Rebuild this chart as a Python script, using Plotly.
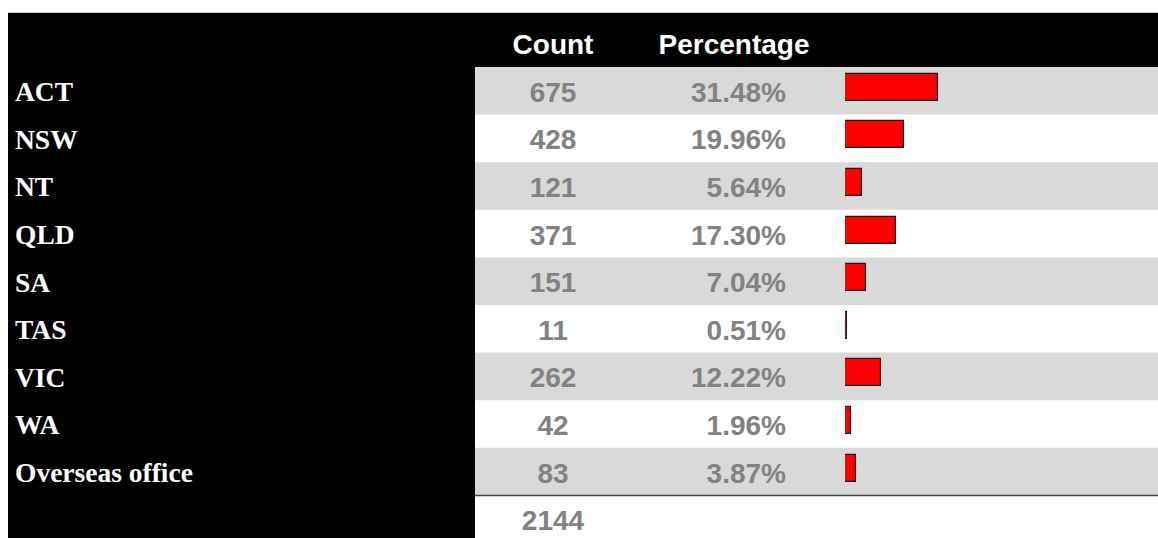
import plotly.graph_objects as go

# ---- data ----
regions = ["ACT", "NSW", "NT", "QLD", "SA", "TAS", "VIC", "WA", "Overseas office"]
counts = [675, 428, 121, 371, 151, 11, 262, 42, 83]
percentages = [31.48, 19.96, 5.64, 17.30, 7.04, 0.51, 12.22, 1.96, 3.87]
headers = ["Count", "Percentage"]
total = sum(counts)

# ---- layout constants (pixels) ----
W, H = 1158, 538
TOP = 13            # top of black header
HEAD_BOTTOM = 67    # bottom of header / first row top
ROW_H = 47.6
PANEL_LEFT = 8
PANEL_RIGHT = 475
BAR_LEFT = 845
PX_PER_PCT = 2.955
COUNT_X = 553
PCT_RIGHT = 786
PCT_HEAD_X = 734
LABEL_X = 15
TEXT_DY = 4.0 / ROW_H
LABEL_DY = 3.5 / ROW_H

def px_to_row(py):
    return (py - HEAD_BOTTOM) / ROW_H - 0.5

n = len(regions)
rows = list(range(n))
y_top = px_to_row(0)
y_bot = px_to_row(H)
header_y = px_to_row(46.5)

fig = go.Figure()

shapes = []
# left black panel
shapes.append(dict(type="rect", xref="x", yref="y", x0=PANEL_LEFT, x1=PANEL_RIGHT,
                   y0=px_to_row(TOP), y1=y_bot, fillcolor="black", line_width=0, layer="below"))
# header black band
shapes.append(dict(type="rect", xref="x", yref="y", x0=PANEL_LEFT, x1=W,
                   y0=px_to_row(TOP), y1=-0.5, fillcolor="black", line_width=0, layer="below"))
# thin top border
shapes.append(dict(type="line", xref="x", yref="y", x0=PANEL_LEFT, x1=W,
                   y0=px_to_row(TOP - 0.5), y1=px_to_row(TOP - 0.5),
                   line=dict(color="#c8c8c8", width=1), layer="below"))
# alternating rows
for i in rows:
    if i % 2 == 0:
        shapes.append(dict(type="rect", xref="x", yref="y", x0=PANEL_RIGHT, x1=W,
                           y0=i - 0.5, y1=i + 0.5, fillcolor="#d9d9d9", line_width=0, layer="below"))
# total line
shapes.append(dict(type="line", xref="x", yref="y", x0=PANEL_RIGHT, x1=W,
                   y0=n - 0.5, y1=n - 0.5, line=dict(color="#444444", width=1.5), layer="above"))

# bars
bw = 27 / ROW_H
shift = -3.5 / ROW_H
fig.add_trace(go.Bar(
    x=percentages, y=rows, orientation="h", xaxis="x2", yaxis="y",
    width=bw, offset=-bw / 2 + shift,
    marker=dict(color="#ff0000", line=dict(color="#1a1a1a", width=1.2)),
    hoverinfo="skip", showlegend=False,
))

# labels
fig.add_trace(go.Scatter(
    x=[LABEL_X] * n, y=[r + LABEL_DY for r in rows], mode="text", text=regions,
    textposition="middle right",
    textfont=dict(family="Liberation Serif", size=27.5, color="white", weight="bold"),
    xaxis="x", yaxis="y", showlegend=False, hoverinfo="skip",
))
# counts
fig.add_trace(go.Scatter(
    x=[COUNT_X] * (n + 1), y=[r + TEXT_DY for r in rows + [n]], mode="text",
    text=[str(c) for c in counts] + [str(total)], textposition="middle center",
    textfont=dict(family="Liberation Sans", size=28, color="#828282", weight="bold"),
    xaxis="x", yaxis="y", showlegend=False, hoverinfo="skip",
))
# percentages
fig.add_trace(go.Scatter(
    x=[PCT_RIGHT] * n, y=[r + TEXT_DY for r in rows], mode="text",
    text=[f"{p:.2f}%" for p in percentages], textposition="middle left",
    textfont=dict(family="Liberation Sans", size=28, color="#828282", weight="bold"),
    xaxis="x", yaxis="y", showlegend=False, hoverinfo="skip",
))
# headers
fig.add_trace(go.Scatter(
    x=[COUNT_X, PCT_HEAD_X], y=[header_y, header_y], mode="text",
    text=headers, textposition="middle center",
    textfont=dict(family="Liberation Sans", size=28, color="white", weight="bold"),
    xaxis="x", yaxis="y", showlegend=False, hoverinfo="skip",
))

fig.update_layout(
    width=W, height=H,
    margin=dict(l=0, r=0, t=0, b=0),
    paper_bgcolor="white", plot_bgcolor="rgba(0,0,0,0)",
    shapes=shapes,
    xaxis=dict(domain=[0, 1], range=[0, W], visible=False, fixedrange=True),
    xaxis2=dict(domain=[BAR_LEFT / W, 1], range=[0, (W - BAR_LEFT) / PX_PER_PCT],
                anchor="y", visible=False, fixedrange=True),
    yaxis=dict(domain=[0, 1], range=[y_bot, y_top], visible=False, fixedrange=True),
    showlegend=False,
    bargap=0,
)

fig.write_html("out.html", config={"displayModeBar": False},
               post_script="document.body.style.margin='0';document.body.style.overflow='hidden';")
